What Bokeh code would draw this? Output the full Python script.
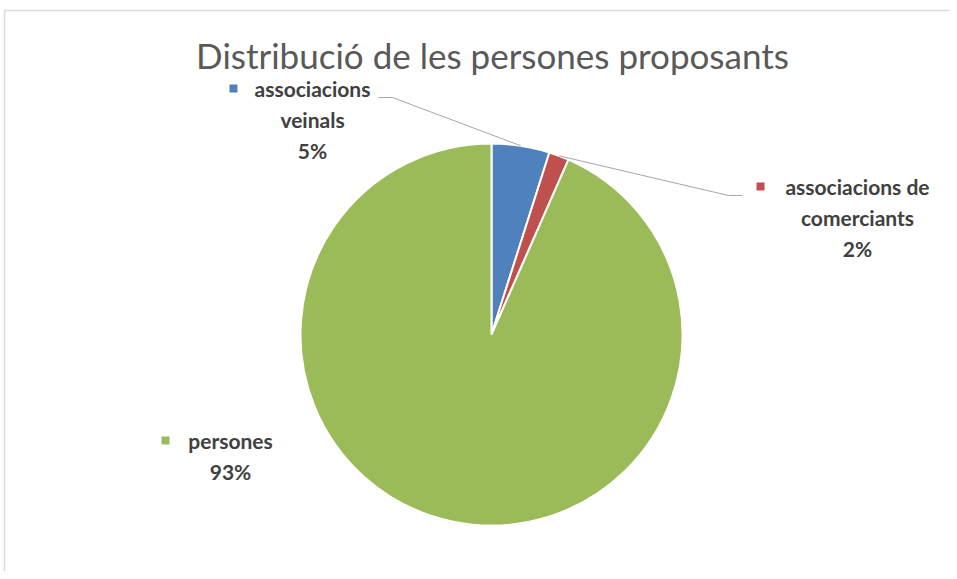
import math
from bokeh.plotting import figure
from bokeh.models import Range1d
from bokeh.core.properties import value
from bokeh.embed import file_html
from bokeh.resources import INLINE

# ---- data ----
categories = ["associacions veinals", "associacions de comerciants", "persones"]
label_lines = [["associacions", "veinals"], ["associacions de", "comerciants"], ["persones"]]
shares = [4.9, 1.7, 93.4]
colors = ["#4F81BD", "#C0504D", "#9BBB59"]
title_text = "Distribució de les persones proposants"

# ---- layout (pixel-like data units) ----
W, H = 949, 571
cx, cy, R = 483, 245, 191
label_pos = [(304, 491), (849, 393), (222, 139)]   # centre of first text line
marker_dx = [-79, -97, -65]
line_gap = 31
leader_bends = [[(384, 482), (370, 482)], [(720, 384), (734, 384)], None]

p = figure(width=W, height=H, output_backend="svg", toolbar_location=None,
           x_range=Range1d(-8, W - 8), y_range=Range1d(8, H + 8), min_border=0)
p.axis.visible = False
p.grid.visible = False
p.outline_line_color = None
p.background_fill_color = "white"

# frame border (left and top visible)
p.multi_line(xs=[[-4, -4], [-4, W]], ys=[[0, 569], [569, 569]], line_color="#d9d9d9", line_width=1.5)

# wedges
total = sum(shares)
start = math.pi / 2
for share, col, lines, (lx, ly), mdx, bend in zip(shares, colors, label_lines, label_pos, marker_dx, leader_bends):
    ang = 2 * math.pi * share / total
    end = start - ang
    p.wedge(x=[cx], y=[cy], radius=R, start_angle=[end], end_angle=[start],
            fill_color=col, line_color="white", line_width=2)
    mid = (start + end) / 2
    if bend is not None:
        ex, ey = cx + R * math.cos(mid), cy + R * math.sin(mid)
        p.line(x=[ex, bend[0][0], bend[1][0]], y=[ey, bend[0][1], bend[1][1]],
               line_color="#a6a6a6", line_width=1)
    # labels
    pct = f"{round(100 * share / total)}%"
    texts = lines + [pct]
    p.text(x=[lx] * len(texts), y=[ly - i * line_gap for i in range(len(texts))], text=texts,
           text_font=value("Lato"), text_font_style="bold", text_font_size="21px",
           text_color="#404040", text_align="center", text_baseline="middle")
    p.scatter(x=[lx + mdx], y=[ly], marker="square", size=8, fill_color=col, line_color=None)
    start = end

# title
p.text(x=[484], y=[525], text=[title_text], text_font=value("Lato"), text_font_size="35px",
       text_color="#595959", text_align="center", text_baseline="middle")

open("out.html", "w").write(file_html(p, INLINE))
